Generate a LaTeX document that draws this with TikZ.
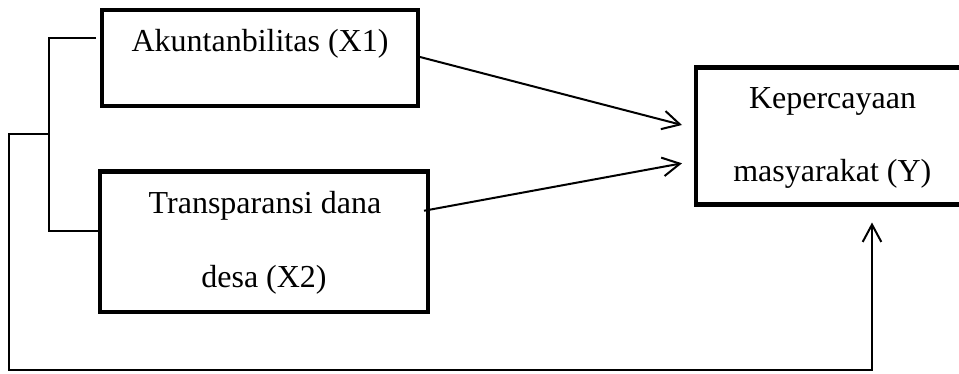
\documentclass[tikz,border=0pt]{standalone}
\usepackage{fontspec}
\setmainfont{Liberation Serif}
\usetikzlibrary{arrows.meta,calc}
\begin{document}
\begin{tikzpicture}[x=0.75pt,y=-0.75pt,
  boxstyle/.style={draw,line width=3.5pt,rectangle,inner sep=0pt,outer sep=0pt},
  lbl/.style={anchor=base,inner sep=0pt,font=\fontsize{24}{28}\selectfont},
  thinline/.style={line width=1pt},
  arr/.style={line width=1.5pt,-{Straight Barb[length=13pt,width=14pt,line width=1.5pt]}}]
\useasboundingbox (0,0) rectangle (959,374);
\path[clip] (0,0) rectangle (959,374);
% boxes
\node[boxstyle,minimum width=237pt,minimum height=72pt] (x1) at (260,58) {};
\node[boxstyle,minimum width=246pt,minimum height=105.4pt] (x2) at (264,241.75) {};
\node[boxstyle,minimum width=204pt,minimum height=102.75pt] (y) at (832,136) {};
% texts
\node[lbl] (t1) at (260,52) {Akuntanbilitas (X1)};
\node[lbl] (t2a) at (265,213) {Transparansi dana};
\node[lbl] (t2b) at (264,287) {desa (X2)};
\node[lbl] (t3a) at (832.5,108.3) {Kepercayaan};
\node[lbl] (t3b) at (832.3,181.7) {masyarakat (Y)};
% bracket
\coordinate (bt) at ($(x1.north west)+(-6,28)$);
\coordinate (bb) at ($(x2.north west)+(0,59.5)$);
\coordinate (jn) at (49,134);
\draw[thinline] (bt) -- ++(-47,0) |- (bb);
% arrows
\coordinate (ytip) at ($(y.south)+(40,18)$);
\draw[arr] (jn) -- ++(-40,0) -- ++(0,236) -| (ytip);
\draw[arr] ($(x1.east)+(2,-1)$) -- ($(y.west)+(-14,-11)$);
\draw[arr] ($(x2.east)+(-4,-31)$) -- ($(y.west)+(-14,27.3)$);
\end{tikzpicture}
\end{document}
